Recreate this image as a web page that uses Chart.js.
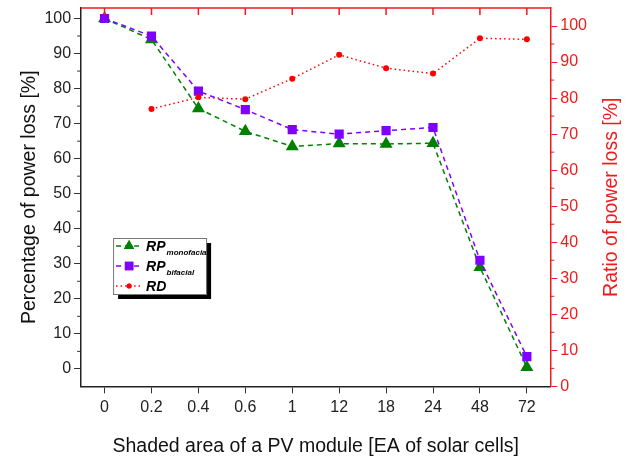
<!DOCTYPE html>
<html>
<head>
<meta charset="utf-8">
<script src="https://cdn.jsdelivr.net/npm/chart.js@4.4.1/dist/chart.umd.min.js"></script>
<style>
    html, body { margin: 0; padding: 0; background: #fff; }
    #wrap { width: 632px; height: 462px; }
</style>
</head>
<body>
<div id="wrap"><canvas id="chart" width="632" height="462"></canvas></div>
<script>
/* ---------- Données ---------- */
const xLabels = ["0", "0.2", "0.4", "0.6", "1", "12", "18", "24", "48", "72"];
const rpMono = [100, 94, 74.3, 67.8, 63.5, 64.3, 64.2, 64.4, 29, 0.5];
const rpBi = [100, 95, 79.3, 74, 68.3, 67, 68, 68.9, 31, 3.5];
const rdRatio = [null, 77, 80.2, 79.7, 85.4, 92, 88.3, 86.8, 96.6, 96.3];

const leftTicks = [0, 10, 20, 30, 40, 50, 60, 70, 80, 90, 100];
const leftMinor = [5, 15, 25, 35, 45, 55, 65, 75, 85, 95];
const rightTicks = [0, 10, 20, 30, 40, 50, 60, 70, 80, 90, 100];
const rightMinor = [5, 15, 25, 35, 45, 55, 65, 75, 85, 95];

const FONT = "'Liberation Sans', Arial, sans-serif";
const RED = "#ee1c1c";
const GREEN = "#008000";
const PURPLE = "#8000ff";

/* ---------- Cadre, ticks mineurs, titre de droite et légende ---------- */
const framePlugin = {
    id: "frame",
    afterDraw(chart) {
        const { ctx, chartArea: a, scales } = chart;
        ctx.save();

        // axe du haut (rouge) avec ticks vers l'intérieur
        ctx.strokeStyle = RED;
        ctx.lineWidth = 1.5;
        ctx.beginPath();
        ctx.moveTo(a.left, a.top);
        ctx.lineTo(a.right, a.top);
        xLabels.forEach((l, i) => {
            const x = scales.x.getPixelForValue(i);
            ctx.moveTo(x, a.top);
            ctx.lineTo(x, a.top + 7);
        });
        ctx.stroke();

        // ticks mineurs
        ctx.lineWidth = 1;
        ctx.strokeStyle = "#333";
        ctx.beginPath();
        leftMinor.forEach(v => {
            const y = scales.y.getPixelForValue(v);
            ctx.moveTo(a.left - 4, y);
            ctx.lineTo(a.left, y);
        });
        ctx.stroke();
        ctx.strokeStyle = RED;
        ctx.beginPath();
        rightMinor.forEach(v => {
            const y = scales.y2.getPixelForValue(v);
            ctx.moveTo(a.right, y);
            ctx.lineTo(a.right + 4, y);
        });
        ctx.stroke();

        // titre de l'axe de droite (lu de bas en haut)
        ctx.translate(612, (a.top + a.bottom) / 2);
        ctx.rotate(-Math.PI / 2);
        ctx.fillStyle = RED;
        ctx.font = "19.5px " + FONT;
        ctx.textAlign = "center";
        ctx.textBaseline = "middle";
        ctx.fillText("Ratio of power loss [%]", 0, 0);
        ctx.setTransform(1, 0, 0, 1, 0, 0);

        // légende
        const bx = a.left + 32, by = a.top + 230, bw = 93, bh = 56;
        ctx.fillStyle = "#000";
        ctx.fillRect(bx + 5, by + 5, bw, bh);
        ctx.fillStyle = "#fff";
        ctx.fillRect(bx, by, bw, bh);
        ctx.strokeStyle = "#777";
        ctx.lineWidth = 1;
        ctx.strokeRect(bx + 0.5, by + 0.5, bw, bh);

        const items = [
            { main: "RP", sub: "monofacial", color: GREEN, style: "triangle", r: 6, dash: [5, 4] },
            { main: "RP", sub: "bifacial", color: PURPLE, style: "rect", r: 6, dash: [5, 4] },
            { main: "RD", sub: "", color: "#ff0000", style: "circle", r: 2.5, dash: [1.5, 3] }
        ];
        items.forEach((it, k) => {
            const y = by + 8 + k * 20;
            ctx.strokeStyle = it.color;
            ctx.lineWidth = 1.3;
            ctx.setLineDash(it.dash);
            ctx.beginPath();
            ctx.moveTo(bx + 3, y);
            ctx.lineTo(bx + 30, y);
            ctx.stroke();
            ctx.setLineDash([]);
            ctx.fillStyle = it.color;
            Chart.helpers.drawPoint(ctx, { pointStyle: it.style, radius: it.r, rotation: 0, borderWidth: 0 }, bx + 16, y);
            ctx.fill();

            ctx.fillStyle = "#000";
            ctx.textBaseline = "alphabetic";
            ctx.textAlign = "left";
            ctx.font = "italic bold 14px " + FONT;
            ctx.fillText(it.main, bx + 33, y + 5);
            if (it.sub) {
                const w = ctx.measureText(it.main).width;
                ctx.font = "italic bold 8px " + FONT;
                ctx.fillText(it.sub, bx + 34 + w, y + 9);
            }
        });

        ctx.restore();
    }
};

new Chart(document.getElementById("chart"), {
    type: "line",
    data: {
        labels: xLabels,
        datasets: [
            {
                label: "RP monofacial",
                data: rpMono,
                yAxisID: "y",
                borderColor: GREEN,
                backgroundColor: GREEN,
                borderWidth: 1.5,
                borderDash: [5, 4],
                pointStyle: "triangle",
                pointRadius: 7.5,
                pointBorderWidth: 0,
                order: 2
            },
            {
                label: "RP bifacial",
                data: rpBi,
                yAxisID: "y",
                borderColor: PURPLE,
                backgroundColor: PURPLE,
                borderWidth: 1.5,
                borderDash: [5, 4],
                pointStyle: "rect",
                pointRadius: 6.5,
                pointBorderWidth: 0,
                order: 1
            },
            {
                label: "RD",
                data: rdRatio,
                yAxisID: "y2",
                borderColor: "#ff0000",
                backgroundColor: "#ff0000",
                borderWidth: 1.5,
                borderDash: [1.5, 3],
                pointStyle: "circle",
                pointRadius: 3,
                pointBorderWidth: 0,
                spanGaps: false,
                order: 0
            }
        ]
    },
    options: {
        responsive: false,
        animation: false,
        layout: { padding: { left: 18, right: 42, top: 8, bottom: 4 } },
        plugins: {
            legend: { display: false },
            tooltip: { enabled: false }
        },
        scales: {
            x: {
                type: "category",
                offset: true,
                grid: { display: true, drawOnChartArea: false, tickLength: 7, color: "#333", offset: false },
                border: { color: "#222", width: 1.5 },
                ticks: { color: "#222", font: { family: FONT, size: 16 }, padding: 5, maxRotation: 0 },
                title: {
                    display: true,
                    text: "Shaded area of a PV module [EA of solar cells]",
                    color: "#111",
                    font: { family: FONT, size: 19.5 },
                    padding: { top: 12, bottom: 0 }
                }
            },
            y: {
                position: "left",
                min: -5,
                max: 103,
                afterBuildTicks: s => { s.ticks = leftTicks.map(v => ({ value: v })); },
                grid: { display: true, drawOnChartArea: false, tickLength: 7, color: "#333" },
                border: { color: "#222", width: 1.5 },
                ticks: { color: "#222", font: { family: FONT, size: 16, lineHeight: 0.5 }, padding: 3 },
                title: {
                    display: true,
                    text: "Percentage of power loss [%]",
                    color: "#111",
                    font: { family: FONT, size: 19.5 },
                    padding: { top: 0, bottom: 0 }
                }
            },
            y2: {
                position: "right",
                min: 0,
                max: 105,
                afterBuildTicks: s => { s.ticks = rightTicks.map(v => ({ value: v })); },
                grid: { display: true, drawOnChartArea: false, tickLength: 7, color: RED },
                border: { color: RED, width: 1.5 },
                ticks: { color: RED, font: { family: FONT, size: 16, lineHeight: 0.5 }, padding: 3 },
                title: { display: false }
            }
        }
    },
    plugins: [framePlugin]
});
</script>
</body>
</html>
